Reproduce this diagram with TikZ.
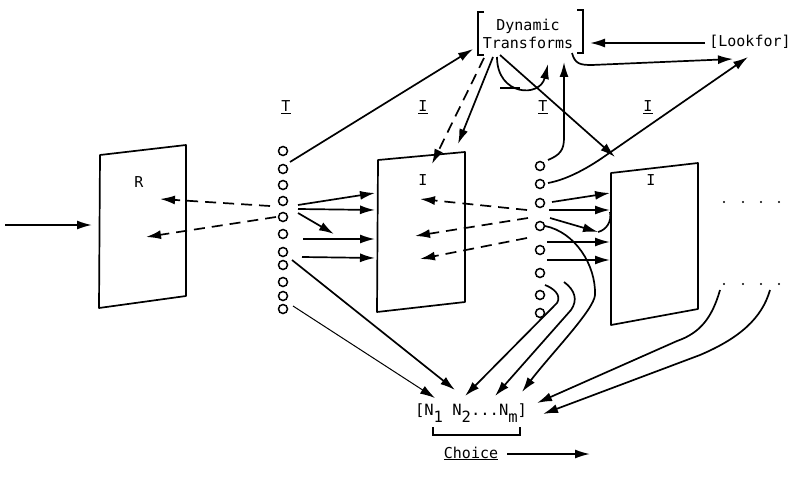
\documentclass[tikz,border=0pt]{standalone}
\usepackage{fontspec}
\setmonofont{DejaVu Sans Mono}
\usetikzlibrary{arrows.meta}
\newcommand{\lw}[1]{\raisebox{-7pt}{#1}}
\begin{document}
\begin{tikzpicture}[x=1pt,y=-1pt,
  every node/.style={font=\ttfamily\fontsize{15}{18}\selectfont, inner sep=0pt},
  ln/.style={line width=1.7pt},
  arr/.style={ln, -{Latex[length=15pt,width=9pt]}},
  thinarr/.style={line width=1pt, -{Latex[length=15pt,width=9pt]}},
  dsh/.style={dash pattern=on 11pt off 7pt},
  circ/.style={circle, draw, line width=1.5pt, minimum size=9pt},
  panel/.style={line width=1.7pt, line join=round},
  brk/.style={line width=1.5pt}
]
\useasboundingbox (0,0) rectangle (802,476);

% columns of circles
\foreach \y [count=\i] in {151,169,185,201,217,234,252,265,282,296,309}
  \node[circ] (a\i) at (283,\y) {};
\foreach \y [count=\i] in {166,184,203,226,250,273,295,313}
  \node[circ] (b\i) at (540,\y) {};

% panels
\draw[panel] (100,155) -- (186,145) -- (186,296) -- (99,308) -- cycle;
\node (R) at (139,182) {R};
\draw[panel] (378,160) -- (465,152) -- (465,302) -- (377,312) -- cycle;
\node (I1) at (423,180) {I};
\draw[panel] (611,173) -- (698,163) -- (698,309) -- (611,325) -- cycle;
\node (I2) at (651,180) {I};

% column labels
\node (tT1) at (286,107) {\underline{T}};
\node (tI1) at (423,107) {\underline{I}};
\node (tT2) at (543,107) {\underline{T}};
\node (tI2) at (648,107) {\underline{I}};

% Dynamic Transforms
\node[align=center] (DT) at (528,34) {Dynamic\\Transforms};
\draw[brk] (484,12) -- (478,12) -- (478,55) -- (484,55);
\draw[brk] (577,10) -- (583,10) -- (583,53) -- (577,53);

% Lookfor
\node (LF) at (750,42) {[Lookfor]};

% N choice
\node[anchor=base,font=\ttfamily\fontsize{15.5}{18}\selectfont] (N) at (471,415) {[N\lw{1} N\lw{2}...N\lw{m}]};
\draw[brk] (433,427) -- (433,435) -- (520,435) -- (520,427);
\node[anchor=base] (CH) at (471,458) {\underline{Choice}};
\draw[arr] (507,454) -- (590,454);

% input
\draw[arr] (5,225) -- (92,225);
% to R dashed
\draw[arr,dsh] (270,206) -- (160,199);
\draw[arr,dsh] (276,217) -- (146,237);
% to I1
\draw[arr] (298,205) -- (375,193);
\draw[arr] (298,209) -- (375,210);
\draw[arr] (298,213) -- (334,234);
\draw[arr] (303,239) -- (375,239);
\draw[arr] (302,257) -- (375,258);
% to DT
\draw[arr] (290,162) -- (473,49);
% to N
\draw[arr] (292,260) -- (455,390);
\draw[thinarr] (293,306) -- (435,398);

% DT down
\draw[arr,dsh] (484,58) -- (432,164);
\draw[arr] (493,57) -- (458,144);
\draw[arr] (500,55) -- (615,157);
\draw[arr] (497,57) .. controls (497,96) and (540,98) .. (548,64);
\draw[ln] (500,88) -- (520,88);
% Lookfor
\draw[arr] (705,43) -- (590,43);
\draw[arr] (572,53) .. controls (575,64) and (580,65) .. (592,65) -- (733,59);
\draw[arr] (548,183) .. controls (565,180) and (585,170) .. (605,156) -- (748,57);
% c2 up to DT
\draw[arr] (548,160) .. controls (560,155) and (564,150) .. (564,138) -- (564,62);

% c2 to I1 dashed
\draw[arr,dsh] (527,210) -- (420,199);
\draw[arr,dsh] (528,218) -- (415,236);
\draw[arr,dsh] (527,238) -- (420,259);

% c2 to I2
\draw[arr] (552,202) -- (610,193);
\draw[arr] (549,210) -- (610,210);
\draw[arr] (550,218) -- (598,232);
\draw[ln] (598,232) .. controls (606,230) and (612,222) .. (610,212);
\draw[arr] (547,242) -- (610,242);
\draw[arr] (547,260) -- (610,260);

% curves to N
\draw[arr] (545,285) .. controls (553,288) and (562,295) .. (557,303) -- (465,396);
\draw[arr] (564,282) .. controls (575,290) and (578,300) .. (571,310) -- (495,396);
\draw[arr] (545,226) .. controls (575,232) and (596,265) .. (595,295) .. controls (594,310) and (550,355) .. (522,392);
\draw[arr] (720,290) .. controls (712,318) and (700,333) .. (677,341) -- (537,403);
\draw[arr] (770,290) .. controls (762,318) and (740,338) .. (700,355) -- (543,414);

% dots
\foreach \x in {724,743,761,779} {
  \fill (\x,202) circle (1.2);
  \fill (\x,284) circle (1.2);
}
\end{tikzpicture}
\end{document}
